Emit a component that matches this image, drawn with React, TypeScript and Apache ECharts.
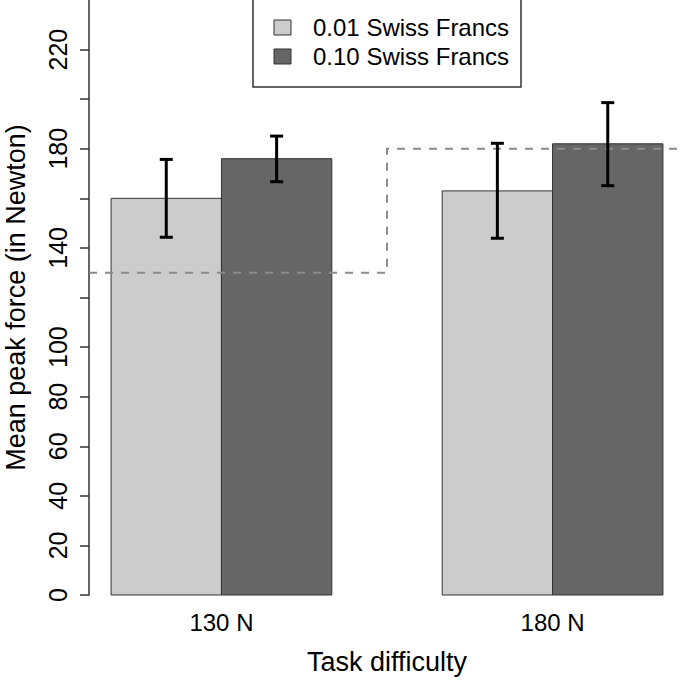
import React, { useEffect, useRef } from "react";
import * as echarts from "echarts";

// ---- data ----
const categories = ["130 N", "180 N"];
const seriesNames = ["0.01 Swiss Francs", "0.10 Swiss Francs"];
const seriesColors = ["#cccccc", "#666666"];
const means001 = [160, 163];
const means010 = [176, 182];
const errLow001 = [144.3, 143.9];
const errHigh001 = [175.7, 182.2];
const errLow010 = [166.7, 165.1];
const errHigh010 = [185.1, 198.6];
const thresholds = [130, 180];
const yLabelValues = [0, 20, 40, 60, 80, 100, 140, 180, 220];

const FONT = "'Liberation Sans', Arial, Helvetica, sans-serif";
const X_MIN = 0.8;
const X_MAX = 6.2;
const nBars = 2;
const space = 1;
const groupCenter = (g: number) => 1 + g * (nBars + space) + nBars / 2;
const barCenter = (g: number, j: number) => 1 + g * (nBars + space) + j + 0.5;

const meansBySeries = [means001, means010];
const errLowBySeries = [errLow001, errLow010];
const errHighBySeries = [errHigh001, errHigh010];

export default function App() {
  const ref = useRef<HTMLDivElement>(null);
  useEffect(() => {
    if (!ref.current) return;
    const chart = echarts.init(ref.current, null, { renderer: "svg" });

    const barSeries = seriesNames.map((name, j) => ({
      name,
      type: "custom",
      z: 2,
      data: categories.map((_, g) => [barCenter(g, j), meansBySeries[j][g]]),
      renderItem: (params: any, api: any) => {
        const x = api.value(0);
        const y = api.value(1);
        const p0 = api.coord([x - 0.5, y]);
        const p1 = api.coord([x + 0.5, 0]);
        return {
          type: "rect",
          shape: { x: p0[0], y: p0[1], width: p1[0] - p0[0], height: p1[1] - p0[1] },
          style: { fill: seriesColors[j], stroke: "#333333", lineWidth: 1 },
        };
      },
    }));

    const errSeries = seriesNames.map((name, j) => ({
      name: name + " error",
      type: "custom",
      z: 5,
      data: categories.map((_, g) => [barCenter(g, j), errLowBySeries[j][g], errHighBySeries[j][g]]),
      renderItem: (params: any, api: any) => {
        const x = api.value(0);
        const lo = api.coord([x, api.value(1)]);
        const hi = api.coord([x, api.value(2)]);
        const hw = 6.5;
        const st = { stroke: "#000000", lineWidth: 3 };
        return {
          type: "group",
          children: [
            { type: "line", shape: { x1: lo[0], y1: lo[1], x2: hi[0], y2: hi[1] }, style: st },
            { type: "line", shape: { x1: lo[0] - hw, y1: lo[1], x2: lo[0] + hw, y2: lo[1] }, style: st },
            { type: "line", shape: { x1: hi[0] - hw, y1: hi[1], x2: hi[0] + hw, y2: hi[1] }, style: st },
          ],
        };
      },
    }));

    const stepSeries = {
      name: "threshold",
      type: "custom",
      z: 4,
      data: [[0, thresholds[0]]],
      renderItem: (params: any, api: any) => {
        const pts: number[][] = [];
        thresholds.forEach((t, g) => {
          const left = g === 0 ? X_MIN : (groupCenter(g - 1) + groupCenter(g)) / 2;
          const right = g === thresholds.length - 1 ? X_MAX : (groupCenter(g) + groupCenter(g + 1)) / 2;
          pts.push(api.coord([left, t]));
          pts.push(api.coord([right, t]));
        });
        return {
          type: "polyline",
          shape: { points: pts },
          style: { stroke: "#8a8a8a", lineWidth: 2, lineDash: [8, 8], fill: null },
        };
      },
    };

    const legendTop = 20;
    const legendRow = 29;
    const legendGraphics: any[] = [
      {
        type: "rect",
        shape: { x: 253, y: -10, width: 268, height: 97 },
        style: { fill: "#ffffff", stroke: "#333333", lineWidth: 1.5 },
        z: 10,
      },
    ];
    seriesNames.forEach((name, j) => {
      legendGraphics.push({
        type: "rect",
        shape: { x: 274, y: legendTop + j * legendRow, width: 17, height: 15 },
        style: { fill: seriesColors[j], stroke: "#333333", lineWidth: 1 },
        z: 11,
      });
      legendGraphics.push({
        type: "text",
        x: 313,
        y: legendTop + 7.5 + j * legendRow,
        style: {
          text: name,
          fill: "#000000",
          font: `24px ${FONT}`,
          textAlign: "left",
          textVerticalAlign: "middle",
        },
        z: 11,
      });
    });

    chart.setOption({
      animation: false,
      backgroundColor: "#ffffff",
      textStyle: { fontFamily: FONT },
      grid: {
        left: 89,
        right: 0,
        top: 0,
        bottom: 87,
        containLabel: false,
        outerBoundsMode: "none",
      },
      xAxis: {
        type: "value",
        min: X_MIN,
        max: X_MAX,
        name: "Task difficulty",
        nameLocation: "middle",
        nameGap: 53,
        nameTextStyle: { fontSize: 27, color: "#000000", fontFamily: FONT },
        axisLine: { show: false },
        axisTick: { show: false },
        splitLine: { show: false },
        axisLabel: {
          customValues: categories.map((_, g) => groupCenter(g)),
          formatter: (v: number) => {
            const g = categories.findIndex((_, i) => Math.abs(groupCenter(i) - v) < 1e-6);
            return g >= 0 ? categories[g] : "";
          },
          fontSize: 24,
          color: "#000000",
          margin: 15,
          fontFamily: FONT,
        },
      },
      yAxis: {
        type: "value",
        min: 0,
        max: 240,
        interval: 20,
        name: "Mean peak force (in Newton)",
        nameLocation: "middle",
        nameGap: 60,
        nameRotate: 90,
        nameTextStyle: { fontSize: 27, color: "#000000", fontFamily: FONT },
        axisLine: { show: true, lineStyle: { color: "#333333", width: 1.5 } },
        axisTick: { show: true, length: 9, lineStyle: { color: "#333333", width: 1.5 } },
        splitLine: { show: false },
        axisLabel: {
          rotate: 90,
          fontSize: 25,
          color: "#000000",
          margin: 19,
          fontFamily: FONT,
          showMaxLabel: false,
          formatter: (v: number) => (yLabelValues.includes(v) ? String(v) : ""),
        },
      },
      graphic: legendGraphics,
      series: [...barSeries, stepSeries, ...errSeries],
    });

    return () => chart.dispose();
  }, []);

  return (
    <div
      ref={ref}
      style={{ position: "fixed", left: 0, top: 0, width: 685, height: 682 }}
    />
  );
}
